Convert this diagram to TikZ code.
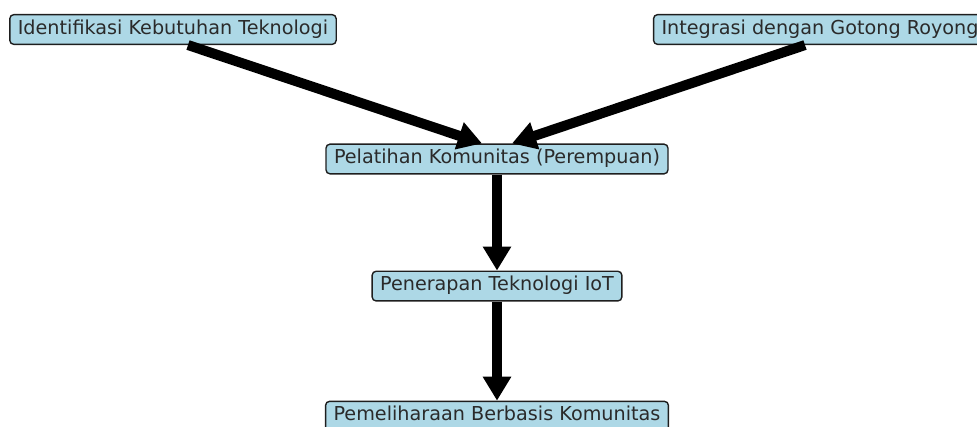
\documentclass[tikz,border=0pt]{standalone}
\usepackage{fontspec}
\setmainfont{DejaVu Sans}
\usetikzlibrary{arrows.meta,positioning}
\definecolor{boxfill}{HTML}{ADD8E6}
\definecolor{boxline}{HTML}{1E1E1E}
\definecolor{boxtext}{HTML}{2A2A2A}

\begin{document}
\begin{tikzpicture}
      [x=1pt, y=-1pt, line width=10pt, >={Triangle[width=27pt,length=24pt]},
      stage/.style={rectangle, draw=boxline, fill=boxfill, text=boxtext,
        line width=1.4pt, rounded corners=4pt, font=\fontsize{19.2}{21}\selectfont,
        text height=14pt, text depth=4.5pt, inner xsep=8pt, inner ysep=5.6pt},
      node distance=96pt]

      \useasboundingbox (0,0) rectangle (977,427);

      \node [stage] (ident) at (173,29.5) {Identifikasi Kebutuhan Teknologi};
      \node [stage] (integ) at (820,29.5) {Integrasi dengan Gotong Royong};
      \node [stage] (latih) at (497,159) {Pelatihan Komunitas (Perempuan)};
      \node [stage, below=of latih] (terap) {Penerapan Teknologi IoT};
      \node [stage, below=99pt of terap] (pelihara) {Pemeliharaan Berbasis Komunitas};

      \draw [->] ([xshift=15pt]ident.south) -- ([xshift=-15pt]latih.north);
      \draw [->] ([xshift=-15pt]integ.south) -- ([xshift=15pt]latih.north);
      \draw [->] (latih) -- (terap);
      \draw [->] (terap) -- (pelihara);
    \end{tikzpicture}
\end{document}
